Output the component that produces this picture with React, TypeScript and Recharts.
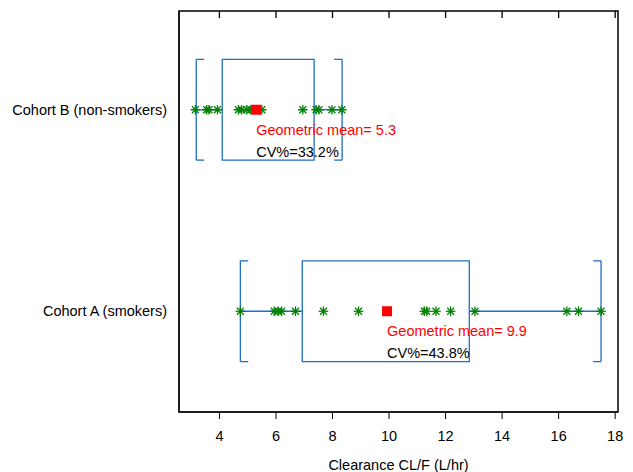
import React from 'react';
import { ComposedChart, Scatter, XAxis, YAxis, ReferenceArea, ReferenceLine, ReferenceDot } from 'recharts';

const categories = ['Cohort A (smokers)', 'Cohort B (non-smokers)'];
const catY = [1, 3];
const cohortA = [4.74, 5.94, 6.08, 6.2, 6.69, 7.68, 8.92, 11.25, 11.33, 11.66, 12.18, 13.04, 16.29, 16.7, 17.5];
const cohortB = [3.15, 3.55, 3.63, 3.93, 4.67, 4.79, 4.97, 5.11, 5.5, 6.95, 7.42, 7.52, 7.98, 8.33];
const geoMeans = [9.93, 5.3];
const cvs = [43.8, 33.2];
const boxLow = [6.93, 4.1];
const boxHigh = [12.84, 7.35];
const whiskLow = [4.74, 3.18];
const whiskHigh = [17.5, 8.34];
const xTicks = [4, 6, 8, 10, 12, 14, 16, 18];
const xDomain = [2.57, 18.1];
const yDomain = [0, 3.98];

const blue = '#1f6fc5';
const green = '#008000';
const font = 'Liberation Sans, Arial, sans-serif';

const ptsA = cohortA.map((x) => ({ x, y: catY[0] }));
const ptsB = cohortB.map((x) => ({ x, y: catY[1] }));
const means = geoMeans.map((x, i) => ({ x, y: catY[i] }));

const Star = (p: any) => {
  const { cx, cy } = p;
  const r = 4.8;
  const d = r * 0.72;
  return (
    <g stroke={green} strokeWidth={1.3}>
      <line x1={cx - r} y1={cy} x2={cx + r} y2={cy} />
      <line x1={cx} y1={cy - r} x2={cx} y2={cy + r} />
      <line x1={cx - d} y1={cy - d} x2={cx + d} y2={cy + d} />
      <line x1={cx - d} y1={cy + d} x2={cx + d} y2={cy - d} />
    </g>
  );
};
const Sq = (p: any) => <rect x={p.cx - 5} y={p.cy - 5} width={10} height={10} fill="#ff0000" />;

export default function App() {
  const half = 0.5;
  const tick = 0.28;
  return (
    <ComposedChart width={625} height={464} margin={{ top: 3, right: 15, bottom: 0, left: 0 }} style={{ fontFamily: font }}>
      <XAxis xAxisId="b" type="number" dataKey="x" domain={xDomain} ticks={xTicks} allowDataOverflow
        stroke="#000" tick={{ fill: '#000', fontSize: 14.5 }} tickSize={7} tickMargin={12} height={60}
        label={{ value: 'Clearance CL/F (L/hr)', position: 'insideBottom', offset: 2, fill: '#000', fontSize: 14.5 }} />
      <XAxis xAxisId="t" orientation="top" type="number" dataKey="x" domain={xDomain} ticks={xTicks} allowDataOverflow
        stroke="#000" mirror height={0} tickSize={7} tickFormatter={() => ''} />
      <YAxis yAxisId="l" type="number" dataKey="y" domain={yDomain} ticks={catY} width={171} stroke="#000"
        tickLine={false} tickMargin={6} tick={{ fill: '#000', fontSize: 14.5 }} tickFormatter={(v: number) => categories[catY.indexOf(v)]} />
      <ReferenceArea xAxisId="b" yAxisId="l" x1={xDomain[0]} x2={xDomain[1]} y1={yDomain[0]} y2={yDomain[1]}
        fill="none" fillOpacity={0} stroke="#000" strokeWidth={1.5} strokeOpacity={1} ifOverflow="visible" />
      {xTicks.map((t) => (
        <ReferenceLine key={'tt' + t} xAxisId="b" yAxisId="l" segment={[{ x: t, y: yDomain[1] }, { x: t, y: yDomain[1] - 0.07 }]} stroke="#000" strokeWidth={1.3} />
      ))}
      {catY.map((y, i) => (
        <React.Fragment key={i}>
          <ReferenceLine xAxisId="b" yAxisId="l" segment={[{ x: whiskLow[i], y }, { x: boxLow[i], y }]} stroke={blue} strokeWidth={1.3} />
          <ReferenceLine xAxisId="b" yAxisId="l" segment={[{ x: boxHigh[i], y }, { x: whiskHigh[i], y }]} stroke={blue} strokeWidth={1.3} />
          <ReferenceLine xAxisId="b" yAxisId="l" segment={[{ x: whiskLow[i], y: y - half }, { x: whiskLow[i], y: y + half }]} stroke={blue} strokeWidth={1.3} />
          <ReferenceLine xAxisId="b" yAxisId="l" segment={[{ x: whiskLow[i], y: y - half }, { x: whiskLow[i] + tick, y: y - half }]} stroke={blue} strokeWidth={1.3} />
          <ReferenceLine xAxisId="b" yAxisId="l" segment={[{ x: whiskLow[i], y: y + half }, { x: whiskLow[i] + tick, y: y + half }]} stroke={blue} strokeWidth={1.3} />
          <ReferenceLine xAxisId="b" yAxisId="l" segment={[{ x: whiskHigh[i], y: y - half }, { x: whiskHigh[i], y: y + half }]} stroke={blue} strokeWidth={1.3} />
          <ReferenceLine xAxisId="b" yAxisId="l" segment={[{ x: whiskHigh[i], y: y - half }, { x: whiskHigh[i] - tick, y: y - half }]} stroke={blue} strokeWidth={1.3} />
          <ReferenceLine xAxisId="b" yAxisId="l" segment={[{ x: whiskHigh[i], y: y + half }, { x: whiskHigh[i] - tick, y: y + half }]} stroke={blue} strokeWidth={1.3} />
          <ReferenceArea xAxisId="b" yAxisId="l" x1={boxLow[i]} x2={boxHigh[i]} y1={y - half} y2={y + half} fill="none" fillOpacity={0} stroke={blue} strokeWidth={1.3} strokeOpacity={1} />
        </React.Fragment>
      ))}
      <Scatter xAxisId="b" yAxisId="l" data={ptsA} shape={Star} isAnimationActive={false} />
      <Scatter xAxisId="b" yAxisId="l" data={ptsB} shape={Star} isAnimationActive={false} />
      <Scatter xAxisId="b" yAxisId="l" data={means} shape={Sq} isAnimationActive={false} />
      {means.map((m, i) => (
        <ReferenceDot key={'t' + i} xAxisId="b" yAxisId="l" x={m.x} y={m.y} r={0} stroke="none" fill="none"
          label={(props: any) => {
            const vb = props.viewBox || {};
            const x = vb.x + (vb.width || 0) / 2;
            const y = vb.y + (vb.height || 0) / 2;
            return (
              <g style={{ fontFamily: font, fontSize: 14.5 }}>
                <text x={x} y={y + 25} fill="#ff0000">{`Geometric mean= ${geoMeans[i].toFixed(1)}`}</text>
                <text x={x} y={y + 47} fill="#000">{`CV%=${cvs[i].toFixed(1)}%`}</text>
              </g>
            );
          }} />
      ))}
    </ComposedChart>
  );
}
